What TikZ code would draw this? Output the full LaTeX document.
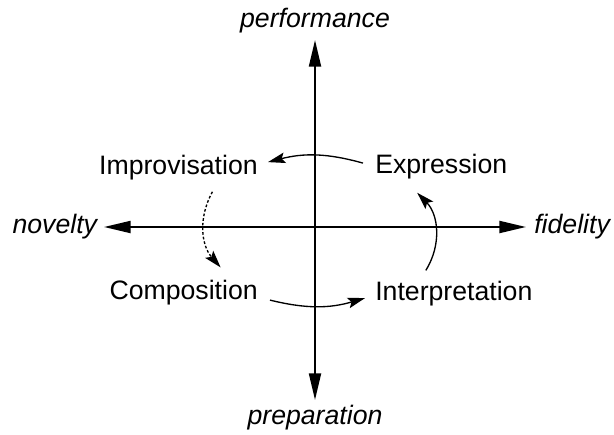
\documentclass[tikz,border=0pt]{standalone}
\usepackage{fontspec}
\setmainfont{Liberation Sans}
\usetikzlibrary{positioning,arrows.meta}

\begin{document}
\begin{tikzpicture}
[x=0.75pt,y=-0.75pt,
 every node/.style={font=\fontsize{20}{24}\selectfont,inner sep=0pt},
 pole/.style={font=\fontsize{20}{24}\selectfont\itshape},
 axis/.style={line width=1.5pt,-{Triangle[length=20pt,width=9pt]}},
 turn/.style={line width=1pt,-{Stealth[length=13pt,width=8pt,inset=2.5pt]}}]
\useasboundingbox (0,0) rectangle (614,435);
% axes
\coordinate (o) at (315,227);
\coordinate (ptip) at (315,40);
\coordinate (qtip) at (315,400);
\coordinate (ntip) at (104,227);
\coordinate (ftip) at (526,227);
\draw[axis] (o) -- (ptip);
\draw[axis] (o) -- (qtip);
\draw[axis] (o) -- (ntip);
\draw[axis] (o) -- (ftip);
\node[pole,above=5pt of ptip](perf){performance};
\node[pole,below=4pt of qtip](prep){preparation};
\node[pole,left=5pt of ntip](nov){novelty};
\node[pole,right=6pt of ftip](fid){fidelity};
% quadrants
\node[anchor=base east](impro) at (258,174){Improvisation};
\node[anchor=base west](expr) at (375,173){Expression};
\node[anchor=base east](comp) at (258,299){Composition};
\node[anchor=base west](interp) at (375,300){Interpretation};
\draw[turn] ([shift={(-12,-3)}]expr.west) to[bend right=15] ([shift={(10,-5)}]impro.east);
\draw[turn,dash pattern=on 2pt off 1.5pt] ([shift={(34,12)}]impro.south) to[bend right=35] ([shift={(37,-12)}]comp.north);
\draw[turn] ([shift={(12,8)}]comp.east) to[bend right=15] ([shift={(-10,5)}]interp.west);
\draw[turn] ([shift={(-28,-10)}]interp.north) to[bend right=38] ([shift={(-24,14)}]expr.south);
\end{tikzpicture}
\end{document}
